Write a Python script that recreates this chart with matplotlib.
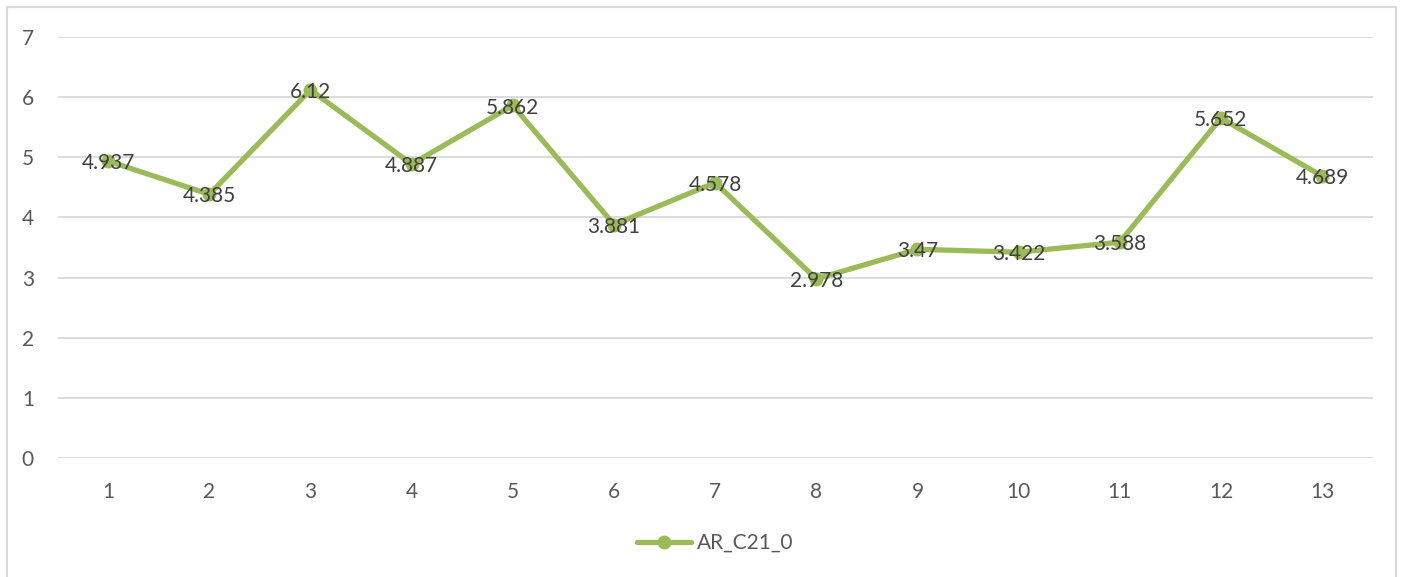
import matplotlib.pyplot as plt
from matplotlib.patches import Rectangle

# Serie AR_C21_0
categorias = list(range(1, 14))
valores = [4.937, 4.385, 6.12, 4.887, 5.862, 3.881, 4.578, 2.978, 3.47, 3.422, 3.588, 5.652, 4.689]
etiquetas = ["4.937", "4.385", "6.12", "4.887", "5.862", "3.881", "4.578", "2.978", "3.47", "3.422", "3.588", "5.652", "4.689"]
serie = "AR_C21_0"

verde = "#9BBB59"
texto = "#404040"
plt.rcParams['font.family'] = ['Lato', 'DejaVu Sans']

fig = plt.figure(figsize=(14.04, 5.77), dpi=100)
fig.patches.append(Rectangle((7 / 1404, -0.01), 1389 / 1404, 1 - 7 / 577 + 0.01,
                             transform=fig.transFigure, fill=False,
                             edgecolor="#D9D9D9", linewidth=1.5))

ax = fig.add_axes([0.041, 1 - 458 / 577, 0.9367, 421 / 577])
ax.plot(categorias, valores, color=verde, linewidth=3.8, marker='o',
        markersize=9, label=serie, solid_capstyle='round', zorder=3)

for x, y, t in zip(categorias, valores, etiquetas):
    ax.annotate(t, (x, y), xytext=(0, -1.5), textcoords='offset points',
                ha='center', va='center', fontsize=15, color=texto, zorder=4)

ax.set_xlim(0.5, 13.5)
ax.set_ylim(0, 7)
ax.set_xticks(categorias)
ax.set_yticks(range(0, 8))
ax.grid(axis='y', color="#D9D9D9", linewidth=1.3)
ax.set_axisbelow(True)
for s in ax.spines.values():
    s.set_visible(False)
ax.tick_params(length=0, labelsize=15, labelcolor="#595959")
ax.tick_params(axis='x', pad=17)
ax.tick_params(axis='y', pad=17)

fig.legend(loc='center', bbox_to_anchor=(715 / 1404, 1 - 543 / 577), frameon=False,
           fontsize=15, labelcolor="#595959", handlelength=2.6, handletextpad=0.3)

plt.savefig("out.png", dpi=100)
